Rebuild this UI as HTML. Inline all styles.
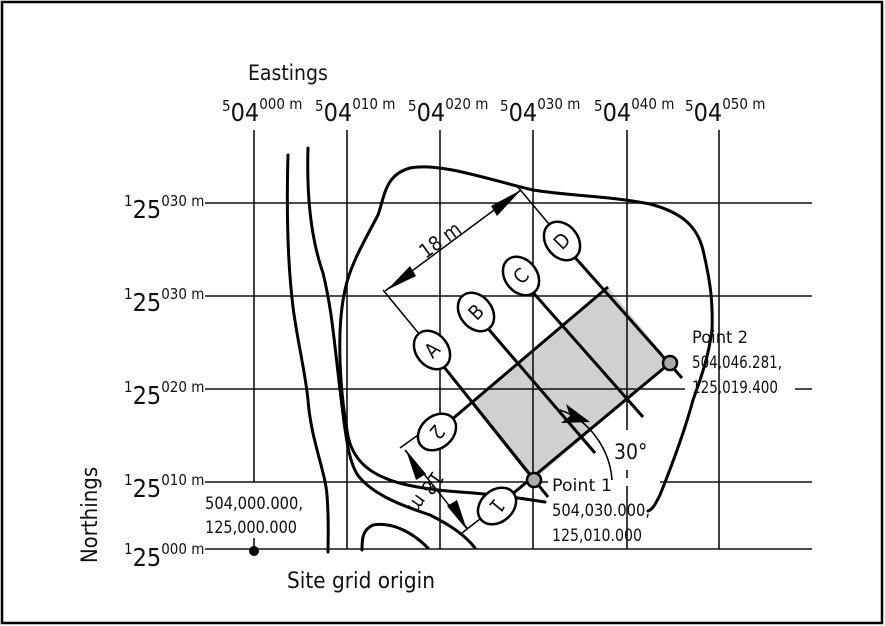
<!DOCTYPE html>
<html><head><meta charset="utf-8"><style>
html,body{margin:0;padding:0;background:#fff}
svg{display:block}
text{font-family:"DejaVu Sans Condensed","Liberation Sans",sans-serif;fill:#111}
</style></head><body>
<svg width="885" height="626" viewBox="0 0 885 626" xmlns="http://www.w3.org/2000/svg">
<rect x="2" y="2" width="880" height="621" fill="#fff" stroke="#000" stroke-width="2.5"/>
<polygon points="534,480 670,363 608,287 472,402" fill="#d0d0d0"/>
<g stroke="#111" stroke-width="1.6" fill="none">
<line x1="205" y1="203" x2="812" y2="203"/>
<line x1="205" y1="296" x2="812" y2="296"/>
<line x1="205" y1="389" x2="685" y2="389"/><line x1="795" y1="389" x2="812" y2="389"/>
<line x1="205" y1="482" x2="548" y2="482"/><line x1="660" y1="482" x2="812" y2="482"/>
<line x1="205" y1="549" x2="812" y2="549"/>
<line x1="254" y1="130" x2="254" y2="482"/><line x1="254" y1="538" x2="254" y2="549"/>
<line x1="347" y1="130" x2="347" y2="549"/>
<line x1="440" y1="130" x2="440" y2="549"/>
<line x1="533" y1="130" x2="533" y2="549"/>
<line x1="627" y1="130" x2="627" y2="430"/><line x1="627" y1="470" x2="627" y2="478"/><line x1="627" y1="486" x2="627" y2="549"/>
<line x1="719" y1="130" x2="719" y2="549"/>
</g>
<g stroke="#000" stroke-width="3" fill="none" stroke-linecap="round">
<path d="M288,155 C287,190 286,250 293,307 C298,345 305,370 308,400 C311,440 325,470 327,495 C329,520 328,540 328,552"/>
<path d="M308,148 C307,180 308,230 323,273 C332,310 334,340 340,390 C345,430 348,465 360,478 C375,495 400,505 430,515 C450,525 465,535 475,548"/>
<path d="M362,550 C362,540 362,530 373,525 C390,522 410,530 428,548"/>
<path d="M545,502 C520,498 490,494 460,492 C430,490 400,485 385,478 C365,470 350,455 347,430 C340,390 336,330 345,290 C350,265 365,240 378,215 C385,195 385,175 410,168 C440,162 490,180 533,190 C570,196 610,196 650,204 C680,212 697,225 703,250 C710,280 713,300 712,330 M712,330 C708,360 700,380 693,400 C685,430 670,470 660,495 C655,505 652,510 648,511"/>
</g>
<g stroke="#000" stroke-width="3" fill="none">
<line x1="450" y1="421" x2="608" y2="287"/>
<line x1="510" y1="496" x2="670" y2="363"/>
<line x1="472" y1="402" x2="534" y2="480"/>
<line x1="440" y1="362" x2="548" y2="497"/>
<line x1="485" y1="325" x2="595" y2="453"/>
<line x1="530" y1="289" x2="643" y2="417"/>
<line x1="572" y1="254" x2="682" y2="378"/>
</g>
<g stroke="#000" stroke-width="1.5" fill="none">
<line x1="383" y1="290" x2="420" y2="335"/>
<line x1="517" y1="186" x2="554" y2="230"/>
<line x1="385" y1="291" x2="521" y2="190"/>
<line x1="400" y1="448" x2="425" y2="430"/>
<line x1="405" y1="450" x2="467" y2="528"/>
<line x1="462" y1="533" x2="485" y2="515"/>
<path d="M560,410 C590,420 610,450 612,480"/>
</g>
<g fill="#000">
<polygon points="521,190 497,216 491,206"/>
<polygon points="387,290 410,266 416,276"/>
<polygon points="406,450 426,474 416,480"/>
<polygon points="467,530 447,506 457,500"/>
<polygon points="590,422 566,404 570,416 561,423"/>
</g>
<circle cx="534" cy="480" r="7" fill="#aaa" stroke="#000" stroke-width="2.5"/>
<circle cx="670" cy="363" r="7" fill="#aaa" stroke="#000" stroke-width="2.5"/>
<circle cx="254" cy="551" r="5" fill="#000"/>
<g stroke="#000" stroke-width="2.5" fill="#fff">
<ellipse cx="432" cy="350" rx="21" ry="16" transform="rotate(51.5 432 350)"/>
<ellipse cx="476" cy="312" rx="21" ry="16" transform="rotate(51.5 476 312)"/>
<ellipse cx="521" cy="276" rx="21" ry="16" transform="rotate(51.5 521 276)"/>
<ellipse cx="562" cy="241" rx="21" ry="16" transform="rotate(51.5 562 241)"/>
<ellipse cx="437" cy="432" rx="21" ry="16" transform="rotate(-40.7 437 432)"/>
<ellipse cx="497" cy="506" rx="21" ry="16" transform="rotate(-40.7 497 506)"/>
</g>
<g font-size="20" text-anchor="middle">
<text x="432" y="357" transform="rotate(-45 432 350)">A</text>
<text x="476" y="319" transform="rotate(-45 476 312)">B</text>
<text x="521" y="283" transform="rotate(-45 521 276)">C</text>
<text x="562" y="248" transform="rotate(-45 562 241)">D</text>
<text x="437" y="439" transform="rotate(130 437 432)">2</text>
<text x="497" y="513" transform="rotate(130 497 506)">1</text>
<text x="440" y="247" transform="rotate(-36 440 240)">18 m</text>
<text x="425" y="498" transform="rotate(125 425 492)">18 m</text>
</g>
<text x="248" y="80" font-size="21">Eastings</text>
<g font-size="25">
<text x="222" y="121"><tspan font-size="15" dy="-10">5</tspan><tspan dy="10">04</tspan><tspan font-size="15" dy="-12">000 m</tspan></text>
<text x="315" y="121"><tspan font-size="15" dy="-10">5</tspan><tspan dy="10">04</tspan><tspan font-size="15" dy="-12">010 m</tspan></text>
<text x="408" y="121"><tspan font-size="15" dy="-10">5</tspan><tspan dy="10">04</tspan><tspan font-size="15" dy="-12">020 m</tspan></text>
<text x="500" y="121"><tspan font-size="15" dy="-10">5</tspan><tspan dy="10">04</tspan><tspan font-size="15" dy="-12">030 m</tspan></text>
<text x="594" y="121"><tspan font-size="15" dy="-10">5</tspan><tspan dy="10">04</tspan><tspan font-size="15" dy="-12">040 m</tspan></text>
<text x="685" y="121"><tspan font-size="15" dy="-10">5</tspan><tspan dy="10">04</tspan><tspan font-size="15" dy="-12">050 m</tspan></text>
<text x="124" y="218"><tspan font-size="15" dy="-12">1</tspan><tspan dy="12">25</tspan><tspan font-size="15" dy="-12">030 m</tspan></text>
<text x="124" y="311"><tspan font-size="15" dy="-12">1</tspan><tspan dy="12">25</tspan><tspan font-size="15" dy="-12">030 m</tspan></text>
<text x="124" y="404"><tspan font-size="15" dy="-12">1</tspan><tspan dy="12">25</tspan><tspan font-size="15" dy="-12">020 m</tspan></text>
<text x="124" y="497"><tspan font-size="15" dy="-12">1</tspan><tspan dy="12">25</tspan><tspan font-size="15" dy="-12">010 m</tspan></text>
<text x="124" y="566"><tspan font-size="15" dy="-12">1</tspan><tspan dy="12">25</tspan><tspan font-size="15" dy="-12">000 m</tspan></text>
</g>
<g font-size="17">
<text x="205" y="509" textLength="98" lengthAdjust="spacingAndGlyphs">504,000.000,</text>
<text x="205" y="533" textLength="92" lengthAdjust="spacingAndGlyphs">125,000.000</text>
<text x="552" y="491" textLength="60" lengthAdjust="spacingAndGlyphs">Point 1</text>
<text x="552" y="516" textLength="98" lengthAdjust="spacingAndGlyphs">504,030.000,</text>
<text x="552" y="541" textLength="90" lengthAdjust="spacingAndGlyphs">125,010.000</text>
<text x="692" y="343" textLength="56" lengthAdjust="spacingAndGlyphs">Point 2</text>
<text x="692" y="368" textLength="90" lengthAdjust="spacingAndGlyphs">504,046.281,</text>
<text x="692" y="393" textLength="86" lengthAdjust="spacingAndGlyphs">125,019.400</text>
</g>
<text x="614" y="459" font-size="21">30°</text>
<text x="287" y="588" font-size="22" textLength="148" lengthAdjust="spacingAndGlyphs">Site grid origin</text>
<text x="97" y="515" font-size="22" text-anchor="middle" transform="rotate(-90 97 515)">Northings</text>
</svg>
</body></html>
